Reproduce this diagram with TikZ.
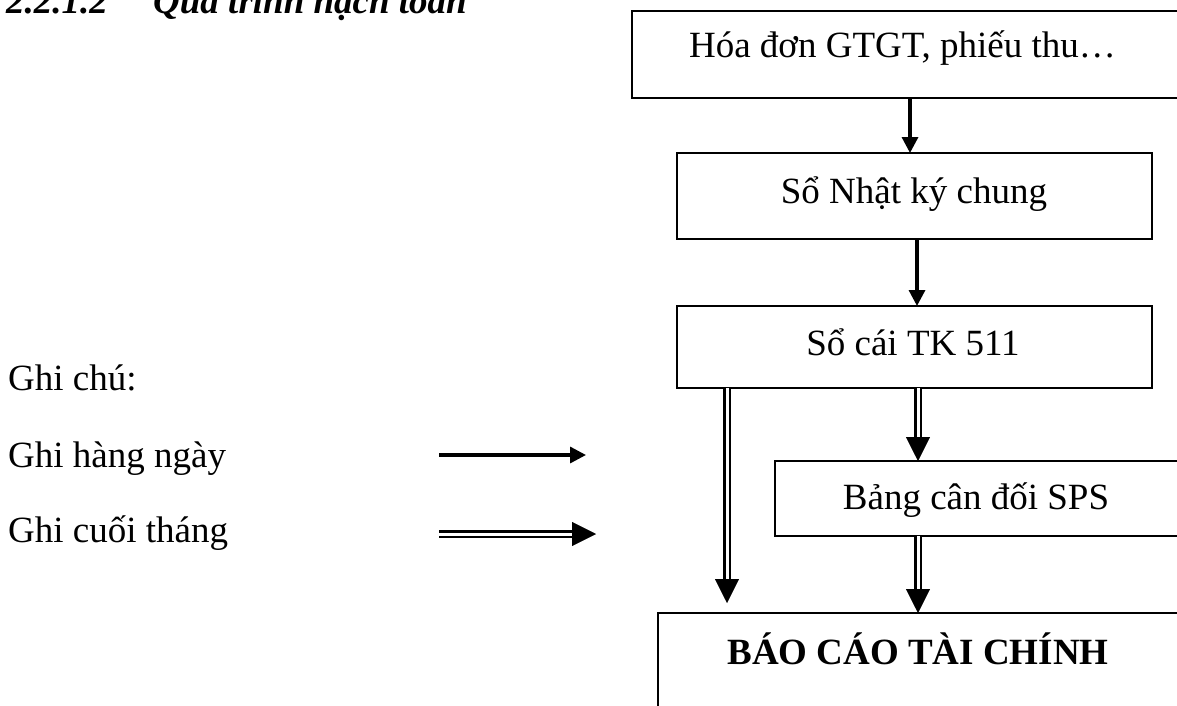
\documentclass[tikz,border=0pt]{standalone}
\usepackage{fontspec}
\setmainfont{Liberation Serif}
\usetikzlibrary{arrows.meta}
\begin{document}
\begin{tikzpicture}[x=1pt,y=-1pt]
\tikzset{
  box/.style={draw=black, line width=2.5pt, inner sep=0pt, outer sep=0pt},
  txt/.style={inner sep=0pt, anchor=base, font=\fontsize{37}{44}\selectfont},
  daily/.style={line width=3.3pt, -{Triangle[length=16pt,width=16pt]}},
  monthhead/.style={line width=0.4pt, -{Triangle[length=24pt,width=24pt]}},
  monthshaft/.style={line width=2.3pt, double=white, double distance=3pt, shorten >=24pt},
}
\useasboundingbox (0,0) rectangle (1177,706);
\clip (0,0) rectangle (1177,706);

% heading
\node[txt, anchor=base west, font=\fontsize{37}{44}\selectfont\bfseries\itshape] (h0) at (6,14) {2.2.1.2};
\node[txt, anchor=base west, font=\fontsize{37}{44}\selectfont\bfseries\itshape] (h1) at (153,14) {Quá trình hạch toán};

% boxes of the bookkeeping flow
\node[box, minimum width=568pt, minimum height=87pt] (b1) at (916,54.5) {};
\node[box, minimum width=475pt, minimum height=86pt] (b2) at (914.5,196) {};
\node[box, minimum width=475pt, minimum height=82pt] (b3) at (914.5,347) {};
\node[box, minimum width=425pt, minimum height=75pt] (b4) at (987.5,498.5) {};
\node[box, minimum width=542pt, minimum height=147pt] (b5) at (929,686.5) {};

\node[txt] (t1) at (902.5,58) {Hóa đơn GTGT, phiếu thu…};
\node[txt] (t2) at (914,203) {Sổ Nhật ký chung};
\node[txt] (t3) at (913,355) {Sổ cái TK 511};
\node[txt] (t4) at (976,509) {Bảng cân đối SPS};
\node[txt, font=\fontsize{37}{44}\selectfont\bfseries] (t5) at (918,664) {BÁO CÁO TÀI CHÍNH};

% legend
\node[txt, anchor=base west] (g0) at (8,390) {Ghi chú:};
\node[txt, anchor=base west] (g1) at (8,467) {Ghi hàng ngày};
\node[txt, anchor=base west] (g2) at (8,542) {Ghi cuối tháng};

% columns of the connectors
\coordinate (c1) at (910,0);
\coordinate (c2) at (917,0);
\coordinate (cL) at (727,0);
\coordinate (cM) at (918,0);
\coordinate (endL) at (727,603);

% daily postings
\draw[daily] (b1.south -| c1) -- (b2.north -| c1);
\draw[daily] (b2.south -| c2) -- (b3.north -| c2);

% month-end postings
\draw[monthhead] (b3.south -| cL) -- (endL);
\draw[monthshaft] (b3.south -| cL) -- (endL);
\draw[monthhead] (b3.south -| cM) -- (b4.north -| cM);
\draw[monthshaft] (b3.south -| cM) -- (b4.north -| cM);
\draw[monthhead] (b4.south -| cM) -- (b5.north -| cM);
\draw[monthshaft] (b4.south -| cM) -- (b5.north -| cM);

% legend arrows
\coordinate (l1s) at (439,455);
\coordinate (l1e) at (586,455);
\coordinate (l2s) at (439,534);
\coordinate (l2e) at (596,534);
\draw[daily] (l1s) -- (l1e);
\draw[monthhead] (l2s) -- (l2e);
\draw[monthshaft] (l2s) -- (l2e);
\end{tikzpicture}
\end{document}
